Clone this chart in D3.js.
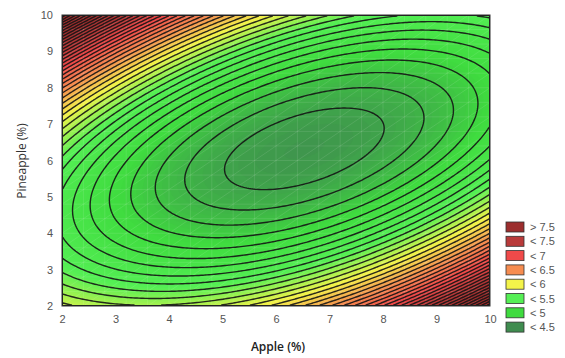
<!DOCTYPE html>
<html>
<head>
<meta charset="utf-8">
<script src="https://cdn.jsdelivr.net/npm/d3@7"></script>
<style>
  html, body { margin: 0; padding: 0; background: #fff; }
  svg { display: block; }
</style>
</head>
<body>
<svg id="chart" width="565" height="358"></svg>
<script>
// Fitted response surface:
// z = b0 + b1*x + b2*y + b11*x^2 + b22*y^2 + b12*x*y + c*(y - y0 - m*(x - x0))^4
const surfaceCoef = [7.1206, -0.2224, -0.6565, 0.048, 0.085, -0.064]; // [b0, b1, b2, b11, b22, b12]
const ridgeCoef = [0.0003, 0.85, 6.53, 6.32];                          // [c, m, x0, y0]
const xDomain = [2, 10];
const yDomain = [2, 10];
const xTicks = [2, 3, 4, 5, 6, 7, 8, 9, 10];
const yTicks = [2, 3, 4, 5, 6, 7, 8, 9, 10];
const legendLabels = ["> 7.5", "< 7.5", "< 7", "< 6.5", "< 6", "< 5.5", "< 5", "< 4.5"];
const legendColors = ["#9c2e2e", "#b93a3a", "#f04a4a", "#f68c50", "#f3f34a", "#55ef55", "#3fdb3f", "#3f8c4f"];
const levelStops = [7.75, 7.25, 6.75, 6.25, 5.75, 5.25, 4.75, 4.25];
const lineStep = 0.1;

const W = 565, H = 358;
const plot = { left: 62, right: 490, top: 15, bottom: 306 };

const svg = d3.select("#chart");
const x = d3.scaleLinear().domain(xDomain).range([plot.left, plot.right]);
const y = d3.scaleLinear().domain(yDomain).range([plot.bottom, plot.top]);

const surface = (px, py) => {
  const [b0, b1, b2, b11, b22, b12] = surfaceCoef;
  const [c, m, x0, y0] = ridgeCoef;
  const p = py - y0 - m * (px - x0);
  return b0 + b1 * px + b2 * py + b11 * px * px + b22 * py * py + b12 * px * py + c * p * p * p * p;
};

// Sample the surface on a fine grid (cell centres), row 0 at the top
const nx = 214, ny = 146;
const values = new Float64Array(nx * ny);
for (let j = 0; j < ny; j++) {
  const py = yDomain[1] - (j + 0.5) * (yDomain[1] - yDomain[0]) / ny;
  for (let i = 0; i < nx; i++) {
    const px = xDomain[0] + (i + 0.5) * (xDomain[1] - xDomain[0]) / nx;
    values[i + j * nx] = surface(px, py);
  }
}

// grid units -> pixels
const toPx = d3.geoTransform({
  point(gx, gy) {
    this.stream.point(
      plot.left + gx * (plot.right - plot.left) / nx,
      plot.top + gy * (plot.bottom - plot.top) / ny
    );
  }
});
const path = d3.geoPath(toPx);

const color = d3.scaleLinear()
  .domain(levelStops.slice().reverse())
  .range(legendColors.slice().reverse())
  .clamp(true);

svg.append("defs").append("clipPath").attr("id", "plotClip")
  .append("rect")
  .attr("x", plot.left).attr("y", plot.top)
  .attr("width", plot.right - plot.left).attr("height", plot.bottom - plot.top);

const g = svg.append("g").attr("clip-path", "url(#plotClip)");

const zExtent = d3.extent(values);
const fillStep = 0.025;
const fillThresholds = d3.range(Math.floor(zExtent[0] / fillStep) * fillStep, zExtent[1] + fillStep, fillStep);

g.append("rect")
  .attr("x", plot.left).attr("y", plot.top)
  .attr("width", plot.right - plot.left).attr("height", plot.bottom - plot.top)
  .attr("fill", color(zExtent[0]));

g.append("g")
  .selectAll("path")
  .data(d3.contours().size([nx, ny]).thresholds(fillThresholds)(values))
  .join("path")
  .attr("d", path)
  .attr("fill", d => color(d.value + fillStep / 2))
  .attr("stroke", d => color(d.value + fillStep / 2))
  .attr("stroke-width", 0.3);

// faint triangulation mesh of the fitted surface
const meshN = 20;
const mesh = g.append("g")
  .attr("stroke", "#ffffff")
  .attr("stroke-opacity", 0.13)
  .attr("stroke-width", 0.8)
  .attr("fill", "none");
const meshX = d3.range(meshN + 1).map(k => xDomain[0] + k * (xDomain[1] - xDomain[0]) / meshN);
const meshY = d3.range(meshN + 1).map(k => yDomain[0] + k * (yDomain[1] - yDomain[0]) / meshN);
mesh.selectAll("line.v").data(meshX).join("line").attr("class", "v")
  .attr("x1", d => x(d)).attr("x2", d => x(d)).attr("y1", plot.top).attr("y2", plot.bottom);
mesh.selectAll("line.h").data(meshY).join("line").attr("class", "h")
  .attr("y1", d => y(d)).attr("y2", d => y(d)).attr("x1", plot.left).attr("x2", plot.right);
const diagonals = [];
for (let a = 0; a < meshN; a++) for (let b = 0; b < meshN; b++) diagonals.push([a, b]);
mesh.selectAll("line.d").data(diagonals).join("line").attr("class", "d")
  .attr("x1", d => x(meshX[d[0]])).attr("y1", d => y(meshY[d[1]]))
  .attr("x2", d => x(meshX[d[0] + 1])).attr("y2", d => y(meshY[d[1] + 1]));

// contour lines
const lineThresholds = d3.range(Math.ceil(zExtent[0] / lineStep) * lineStep, zExtent[1], lineStep);
g.append("g")
  .selectAll("path")
  .data(d3.contours().size([nx, ny]).thresholds(lineThresholds)(values))
  .join("path")
  .attr("d", path)
  .attr("fill", "none")
  .attr("stroke", "#141414")
  .attr("stroke-opacity", 0.9)
  .attr("stroke-width", 1.4)
  .attr("stroke-linejoin", "round");

// plot frame
svg.append("rect")
  .attr("x", plot.left).attr("y", plot.top)
  .attr("width", plot.right - plot.left).attr("height", plot.bottom - plot.top)
  .attr("fill", "none").attr("stroke", "#333").attr("stroke-width", 1);

// axes
const xAxis = svg.append("g")
  .attr("transform", `translate(0,${plot.bottom})`)
  .call(d3.axisBottom(x).tickValues(xTicks).tickSize(0).tickPadding(9).tickFormat(d3.format("d")));
const yAxis = svg.append("g")
  .attr("transform", `translate(${plot.left},0)`)
  .call(d3.axisLeft(y).tickValues(yTicks).tickSize(0).tickPadding(9).tickFormat(d3.format("d")));
[xAxis, yAxis].forEach(a => {
  a.select(".domain").remove();
  a.selectAll("text")
    .attr("fill", "#555")
    .style("font-family", "'Liberation Sans', Arial, sans-serif")
    .style("font-size", "11px");
});

svg.append("text")
  .attr("x", 278).attr("y", 351)
  .attr("text-anchor", "middle")
  .attr("fill", "#222")
  .style("font-family", "'Open Sans', 'Liberation Sans', sans-serif")
  .style("font-size", "12px")
  .style("font-weight", "600")
  .text("Apple (%)");

svg.append("text")
  .attr("transform", "translate(26,161) rotate(-90)")
  .attr("text-anchor", "middle")
  .attr("fill", "#333")
  .style("font-family", "'Open Sans', 'Liberation Sans', sans-serif")
  .style("font-size", "12px")
  .text("Pineapple (%)");

// legend
const legend = svg.append("g").attr("transform", "translate(506,222)");
const row = legend.selectAll("g").data(legendLabels).join("g")
  .attr("transform", (d, i) => `translate(0,${i * 14.3})`);
row.append("rect")
  .attr("width", 18).attr("height", 10)
  .attr("fill", (d, i) => legendColors[i])
  .attr("stroke", "#333").attr("stroke-width", 0.8);
row.append("text")
  .attr("x", 24).attr("y", 9)
  .attr("fill", "#555")
  .style("font-family", "'Liberation Sans', Arial, sans-serif")
  .style("font-size", "11px")
  .text(d => d);
</script>
</body>
</html>
